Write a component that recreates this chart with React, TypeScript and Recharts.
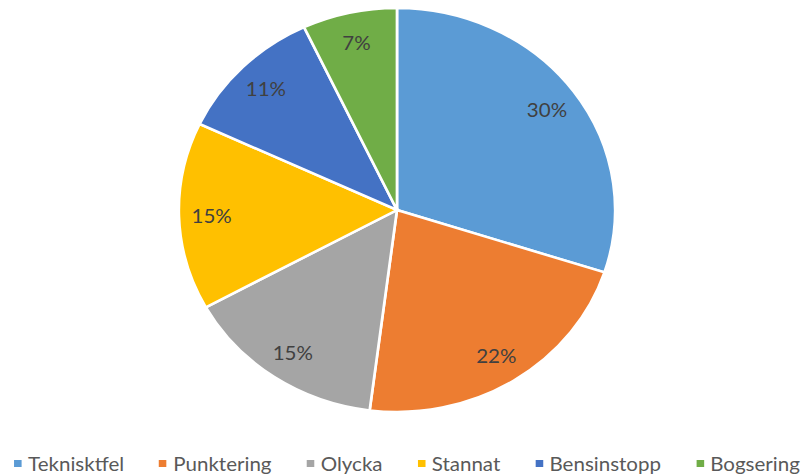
import { Cell, Legend, Pie, PieChart } from "recharts";

const categories = ["Teknisktfel", "Punktering", "Olycka", "Stannat", "Bensinstopp", "Bogsering"];
const shares = [30, 22, 15, 15, 11, 7];
const colors = ["#5B9BD5", "#ED7D31", "#A5A5A5", "#FFC000", "#4472C4", "#70AD47"];

const data = categories.map((name, i) => ({ name, value: shares[i] }));

const RAD = Math.PI / 180;

// the reference is stretched sideways, so the whole chart is drawn narrow and scaled
const STRETCH = 1.08;
const W = 802 / STRETCH;
const H = 475;

const renderLabel = ({ cx, cy, midAngle, outerRadius, value }: any) => {
	const r = outerRadius * 0.85;
	const x = cx + r * Math.cos(-midAngle * RAD);
	const y = cy + r * Math.sin(-midAngle * RAD);
	return (
		<text
			x={x}
			y={y}
			fill="#404040"
			fontSize={19}
			fontFamily="Lato, sans-serif"
			textAnchor="middle"
			dominantBaseline="central"
		>
			{`${value}%`}
		</text>
	);
};

const LegendContent = ({ payload }: any) => {
	const items = [...(payload || [])].sort(
		(a: any, b: any) => categories.indexOf(a.value) - categories.indexOf(b.value),
	);
	return (
		<div
			style={{
				display: "flex",
				justifyContent: "space-between",
				alignItems: "center",
				padding: "0 2px 0 13px",
				fontFamily: "Lato, sans-serif",
				fontSize: 19,
				color: "#595959",
			}}
		>
			{items.map((entry: any) => (
				<div key={entry.value} style={{ display: "flex", alignItems: "center" }}>
					<span
						style={{
							width: 7,
							height: 7,
							background: entry.color,
							marginRight: 6,
							display: "inline-block",
						}}
					/>
					<span>{entry.value}</span>
				</div>
			))}
		</div>
	);
};

export default function App() {
	return (
		<div
			style={{
				position: "absolute",
				left: 0,
				top: 0,
				width: 802,
				height: 475,
				background: "#fff",
				overflow: "hidden",
			}}
		>
			<div style={{ width: W, height: H, transform: `scaleX(${STRETCH})`, transformOrigin: "0 0" }}>
				<PieChart width={W} height={H} margin={{ top: 0, right: 0, bottom: 0, left: 0 }}>
					<Pie
						data={data}
						dataKey="value"
						nameKey="name"
						cx={397 / STRETCH}
						cy={210}
						outerRadius={202}
						startAngle={90}
						endAngle={-270}
						stroke="#fff"
						strokeWidth={2.5}
						label={renderLabel}
						labelLine={false}
						isAnimationActive={false}
					>
						{data.map((d, i) => (
							<Cell key={d.name} fill={colors[i]} />
						))}
					</Pie>
					<Legend
						verticalAlign="bottom"
						content={<LegendContent />}
						wrapperStyle={{ bottom: 0, left: 0, width: W }}
					/>
				</PieChart>
			</div>
		</div>
	);
}
